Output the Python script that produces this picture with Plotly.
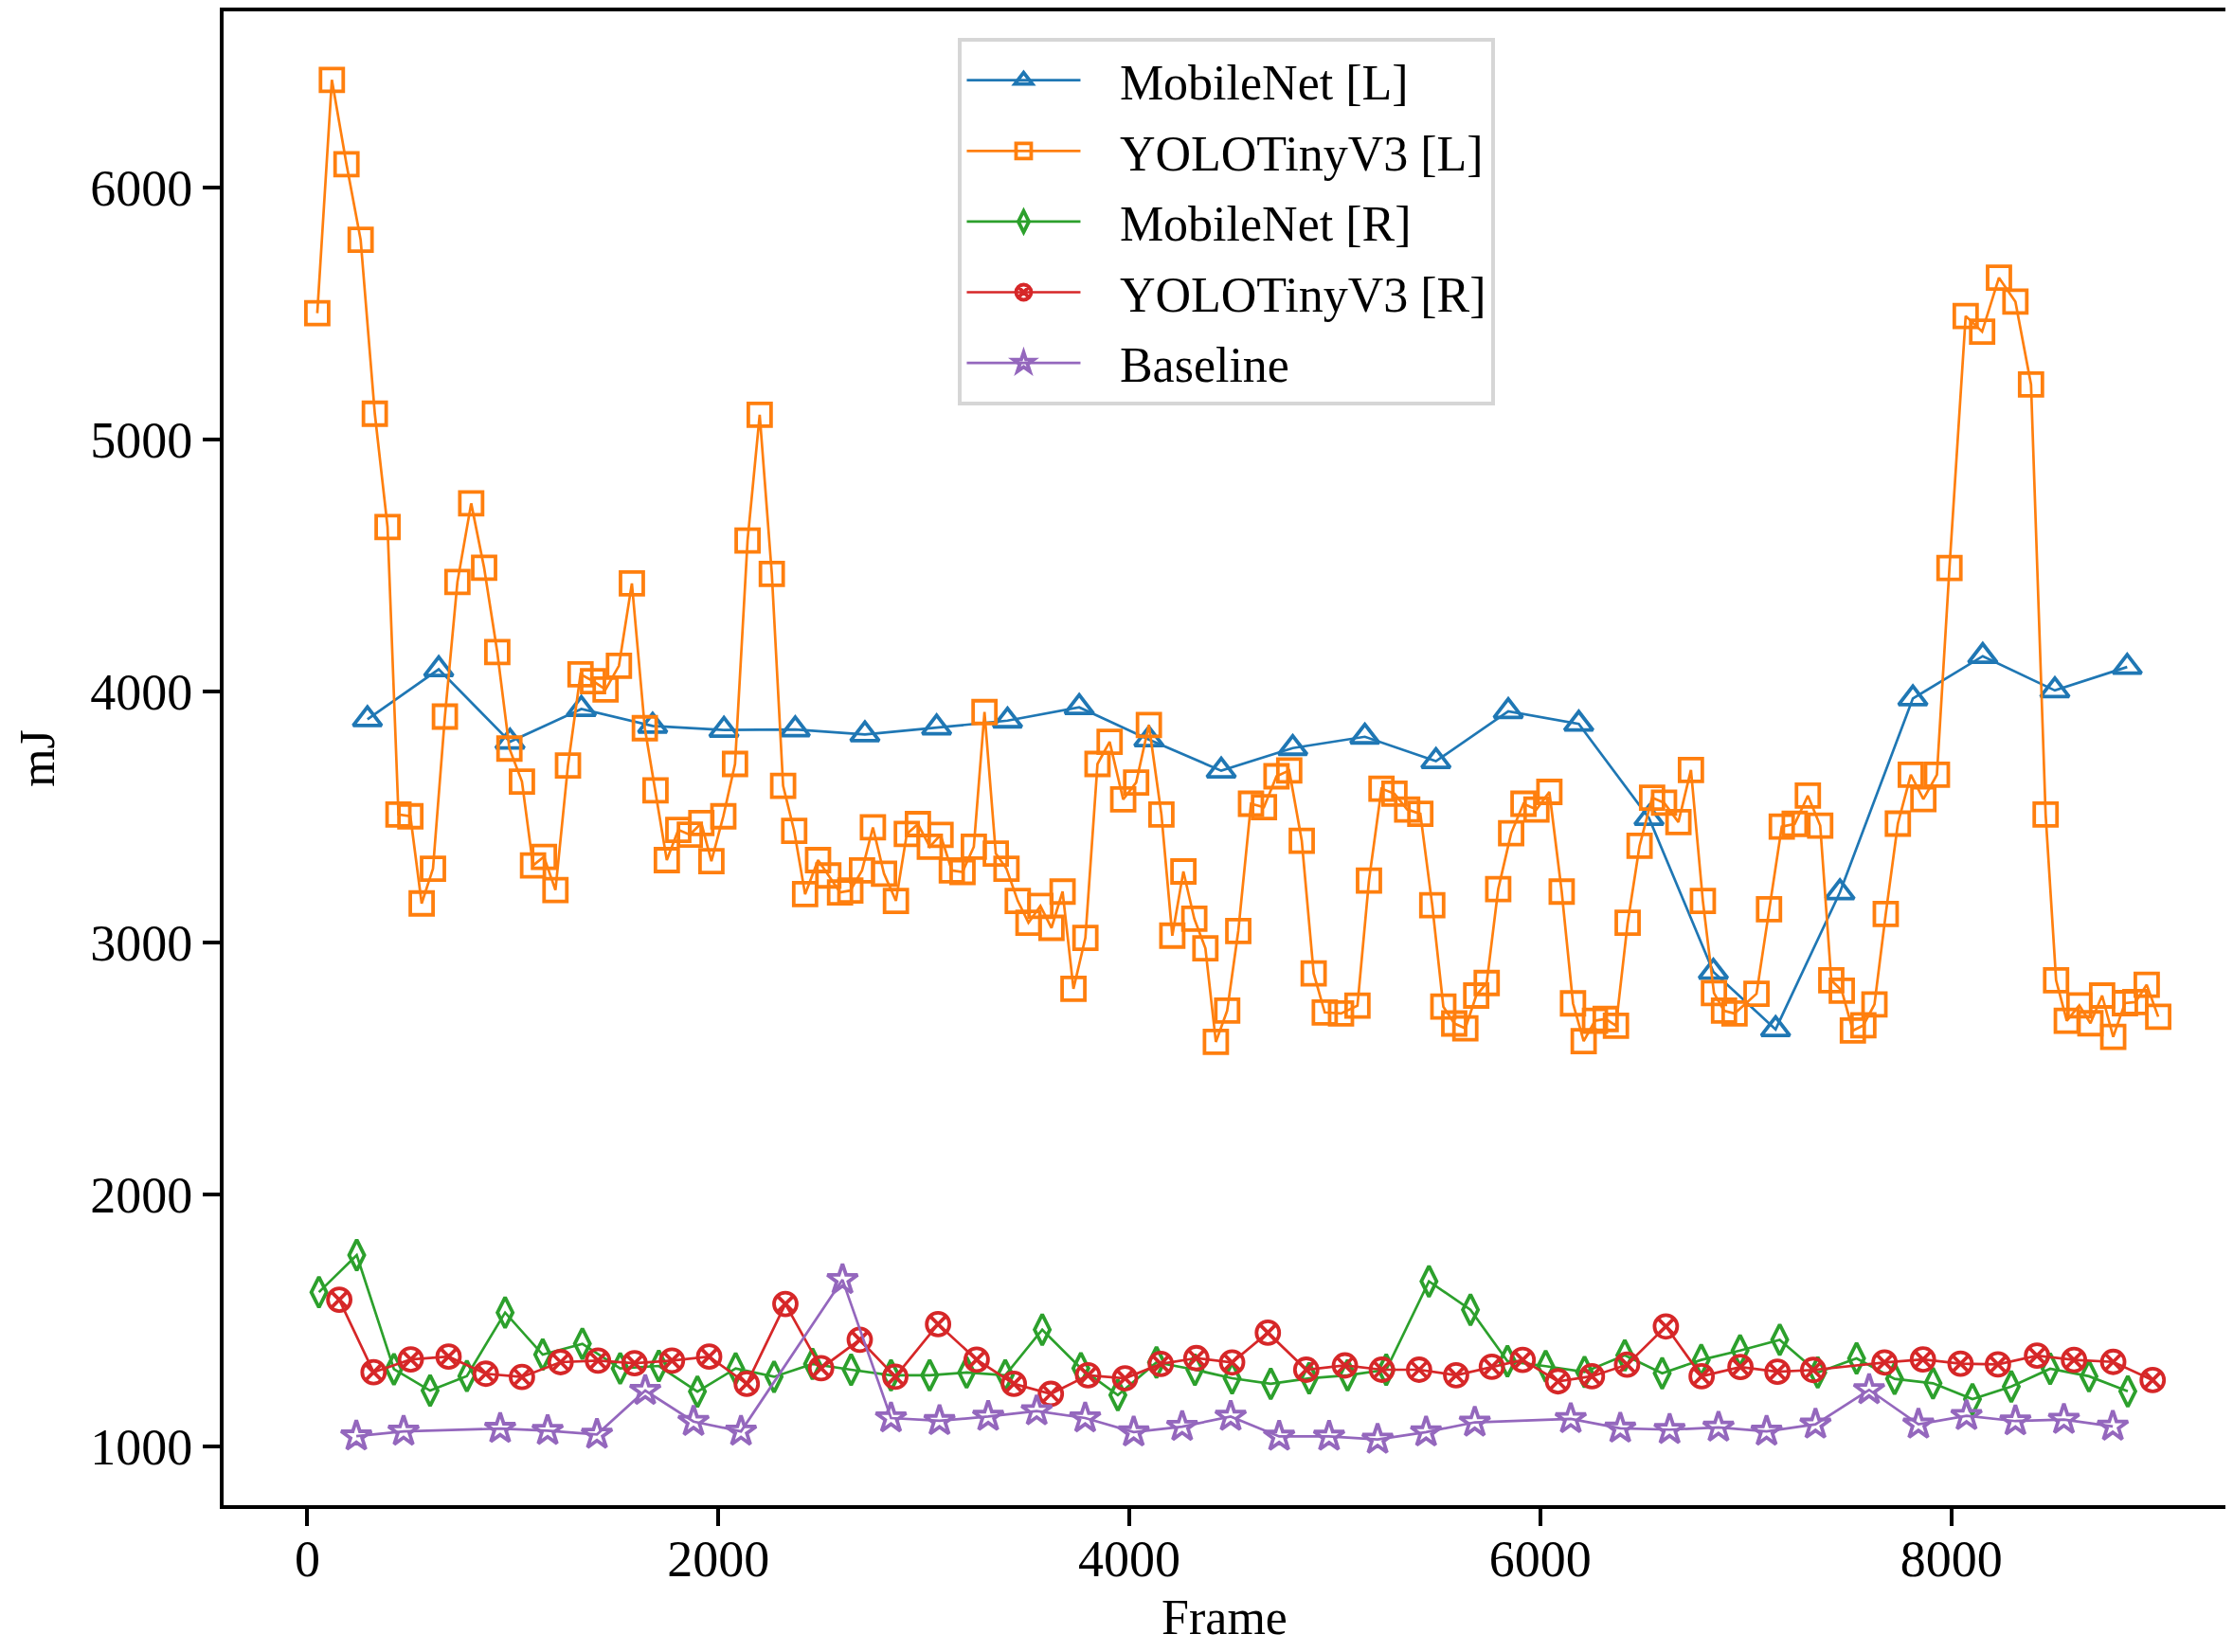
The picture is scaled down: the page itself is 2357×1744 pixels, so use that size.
import plotly.graph_objects as go

# ---------------- data ----------------
mobilenet_l_frames = [292, 639, 986, 1333, 1680, 2027, 2374, 2713, 3062, 3407, 3756, 4095, 4447,
                      4795, 5146, 5492, 5844, 6187, 6529, 6842, 7145, 7458, 7813, 8153, 8504, 8856]
mobilenet_l_mj = [3888, 4087, 3799, 3929, 3862, 3846, 3848, 3828, 3855, 3883, 3936, 3808, 3684,
                  3774, 3819, 3722, 3920, 3870, 3496, 2885, 2657, 3201, 3971, 4139, 4003, 4096]

yolo_l_frames = [48, 119, 190, 259, 328, 390, 443, 501, 556, 611, 669, 730, 797, 860, 924, 983,
                 1044, 1098, 1151, 1207, 1268, 1329, 1390, 1451, 1516, 1579, 1642, 1694, 1749,
                 1805, 1861, 1917, 1966, 2024, 2081, 2142, 2201, 2260, 2315, 2369, 2422, 2485,
                 2535, 2592, 2642, 2699, 2752, 2806, 2864, 2917, 2971, 3029, 3081, 3136, 3188,
                 3243, 3295, 3350, 3402, 3457, 3509, 3567, 3621, 3675, 3728, 3786, 3845, 3904,
                 3970, 4033, 4095, 4156, 4209, 4263, 4316, 4370, 4421, 4476, 4530, 4592, 4655,
                 4716, 4778, 4839, 4897, 4951, 5030, 5110, 5166, 5227, 5290, 5352, 5416, 5474,
                 5528, 5581, 5635, 5688, 5739, 5795, 5858, 5918, 5981, 6044, 6104, 6159, 6211,
                 6266, 6318, 6368, 6425, 6483, 6544, 6602, 6672, 6733, 6791, 6845, 6894, 6945,
                 7052, 7113, 7175, 7238, 7302, 7362, 7416, 7467, 7521, 7572, 7626, 7681, 7740,
                 7803, 7864, 7930, 7991, 8070, 8150, 8232, 8312, 8388, 8459, 8510, 8562, 8623,
                 8677, 8734, 8788, 8845, 8896, 8951, 9007]
yolo_l_mj = [5501, 6428, 6093, 5793, 5102, 4652, 3510, 3503, 3157, 3295, 3899, 4434, 4746, 4490,
             4155, 3772, 3641, 3308, 3342, 3210, 3705, 4067, 4040, 4007, 4101, 4428, 3853, 3606,
             3329, 3449, 3430, 3476, 3325, 3503, 3711, 4598, 5098, 4466, 3624, 3445, 3194, 3329,
             3268, 3201, 3208, 3288, 3459, 3275, 3167, 3433, 3472, 3382, 3429, 3288, 3282, 3382,
             3917, 3355, 3295, 3167, 3080, 3147, 3060, 3204, 2818, 3020, 3711, 3799, 3570, 3637,
             3866, 3510, 3029, 3284, 3096, 2979, 2607, 2731, 3047, 3553, 3539, 3662, 3685, 3406,
             2879, 2724, 2720, 2751, 3248, 3613, 3593, 3530, 3513, 3150, 2747, 2680, 2661, 2791,
             2841, 3214, 3436, 3553, 3530, 3600, 3204, 2760, 2610, 2691, 2698, 2671, 3080, 3386,
             3577, 3557, 3480, 3687, 3167, 2801, 2731, 2720, 2798, 3134, 3462, 3473, 3585, 3466,
             2852, 2810, 2652, 2673, 2756, 3115, 3474, 3668, 3571, 3668, 4489, 5490, 5428, 5642,
             5547, 5218, 3510, 2852, 2691, 2752, 2681, 2791, 2627, 2761, 2765, 2834, 2707]

mobilenet_r_frames = [56, 240, 421, 597, 776, 962, 1145, 1338, 1522, 1710, 1898, 2084, 2271, 2458,
                      2646, 2840, 3028, 3208, 3396, 3576, 3764, 3944, 4132, 4319, 4500, 4688,
                      4875, 5062, 5250, 5458, 5660, 5840, 6026, 6215, 6411, 6593, 6783, 6972,
                      7165, 7350, 7539, 7724, 7911, 8103, 8292, 8481, 8670, 8859]
mobilenet_r_mj = [1613, 1760, 1307, 1222, 1280, 1532, 1365, 1408, 1310, 1320, 1218, 1310, 1277,
                  1328, 1305, 1283, 1283, 1294, 1283, 1464, 1311, 1204, 1334, 1305, 1271, 1249,
                  1271, 1283, 1305, 1656, 1543, 1339, 1319, 1296, 1362, 1291, 1344, 1381, 1424,
                  1294, 1350, 1269, 1251, 1188, 1238, 1309, 1279, 1219]

yolo_r_frames = [155, 322, 503, 687, 868, 1044, 1232, 1414, 1592, 1774, 1955, 2138, 2326, 2500,
                 2688, 2861, 3069, 3257, 3438, 3618, 3799, 3979, 4153, 4326, 4500, 4674, 4861,
                 5049, 5229, 5410, 5590, 5764, 5914, 6086, 6251, 6422, 6611, 6785, 6974, 7154,
                 7328, 7675, 7862, 8045, 8227, 8417, 8597, 8788, 8980]
yolo_r_mj = [1583, 1295, 1346, 1357, 1289, 1276, 1335, 1341, 1331, 1341, 1357, 1249, 1566, 1311,
             1424, 1277, 1486, 1345, 1249, 1209, 1283, 1271, 1328, 1351, 1334, 1452, 1305, 1322,
             1305, 1305, 1283, 1317, 1344, 1259, 1279, 1325, 1477, 1279, 1316, 1297, 1304, 1334,
             1346, 1329, 1326, 1361, 1344, 1336, 1264]

baseline_frames = [238, 468, 938, 1169, 1409, 1644, 1879, 2110, 2604, 2840, 3076, 3313, 3549,
                   3785, 4021, 4257, 4493, 4729, 4972, 5208, 5444, 5681, 6148, 6389, 6629, 6867,
                   7101, 7339, 7600, 7840, 8074, 8312, 8548, 8786]
baseline_mj = [1041, 1060, 1071, 1063, 1048, 1222, 1099, 1060, 1662, 1113, 1102, 1119, 1141,
               1113, 1057, 1079, 1119, 1040, 1040, 1028, 1057, 1096, 1110, 1072, 1067, 1076,
               1060, 1088, 1225, 1088, 1122, 1101, 1107, 1080]

x_ticks = [0, 2000, 4000, 6000, 8000]
y_ticks = [1000, 2000, 3000, 4000, 5000, 6000]

# ---------------- figure ----------------
FONT = "Liberation Serif"
# the page body has an 8px margin, so the figure is sized to fit inside the window
W, H = 2341, 1728

series = [
    ("MobileNet [L]", mobilenet_l_frames, mobilenet_l_mj, "#1f77b4", "triangle-up-open", 26),
    ("YOLOTinyV3 [L]", yolo_l_frames, yolo_l_mj, "#ff7f0e", "square-open", 24),
    ("MobileNet [R]", mobilenet_r_frames, mobilenet_r_mj, "#2ca02c", "diamond-tall-open", 23),
    ("YOLOTinyV3 [R]", yolo_r_frames, yolo_r_mj, "#d62728", "circle-x-open", 24),
    ("Baseline", baseline_frames, baseline_mj, "#9467bd", "star-open", 24),
]

fig = go.Figure()
for i, (name, xs, ys, color, sym, size) in enumerate(series):
    fig.add_trace(go.Scatter(
        x=xs, y=ys, name="\u2002\u2009" + name, mode="lines+markers", legendgroup=f"g{i}",
        line=dict(color=color, width=2.7),
        marker=dict(symbol=sym, size=size, color=color, line=dict(color=color, width=3.8)),
    ))

fig.update_layout(
    width=W, height=H,
    margin=dict(l=228, r=0, t=4, b=147),
    paper_bgcolor="white", plot_bgcolor="white",
    font=dict(family=FONT, size=52, color="black"),
    showlegend=True,
    legend=dict(
        x=0.367, y=0.982, xanchor="left", yanchor="top",
        bgcolor="white", bordercolor="#d6d6d6", borderwidth=4,
        font=dict(family=FONT, size=52, color="black"),
        tracegroupgap=4, itemwidth=120,
    ),
    xaxis=dict(
        range=[-408, 9334], tickvals=x_ticks, ticktext=[str(v) for v in x_ticks],
        showgrid=False, zeroline=False, showline=True, linecolor="black", linewidth=4,
        mirror=True, ticks="outside", ticklen=18, tickwidth=4, tickcolor="black",
        ticklabelstandoff=-12,
        tickfont=dict(family=FONT, size=54, color="black"),
        title=dict(text="Frame", font=dict(family=FONT, size=52, color="black"), standoff=25),
    ),
    yaxis=dict(
        range=[767, 6700], tickvals=y_ticks, ticktext=[str(v) for v in y_ticks],
        showgrid=False, zeroline=False, showline=True, linecolor="black", linewidth=4,
        mirror=False, ticks="outside", ticklen=18, tickwidth=4, tickcolor="black",
        tickfont=dict(family=FONT, size=54, color="black"),
        title=dict(text="mJ", font=dict(family=FONT, size=52, color="black"), standoff=22),
    ),
)

fig.write_html("out.html")
